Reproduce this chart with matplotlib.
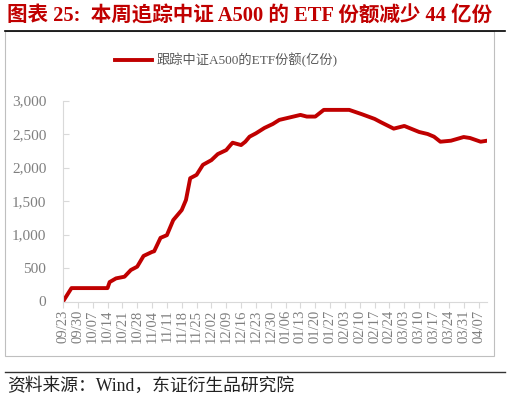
import pandas as pd
import matplotlib.pyplot as plt
from matplotlib.lines import Line2D

# 数据：跟踪中证A500的ETF份额（亿份）
fechas = ["2024-09-23", "2024-09-25", "2024-09-27", "2024-09-30", "2024-10-08",
          "2024-10-11", "2024-10-14", "2024-10-15", "2024-10-18", "2024-10-22",
          "2024-10-25", "2024-10-28", "2024-10-31", "2024-11-04", "2024-11-05",
          "2024-11-08", "2024-11-11", "2024-11-14", "2024-11-18", "2024-11-20",
          "2024-11-22", "2024-11-25", "2024-11-28", "2024-12-02", "2024-12-05",
          "2024-12-09", "2024-12-11", "2024-12-12", "2024-12-16", "2024-12-18",
          "2024-12-20", "2024-12-23", "2024-12-27", "2024-12-31", "2025-01-03",
          "2025-01-07", "2025-01-13", "2025-01-16", "2025-01-20", "2025-01-24",
          "2025-02-05", "2025-02-11", "2025-02-17", "2025-02-20", "2025-02-26",
          "2025-03-03", "2025-03-10", "2025-03-14", "2025-03-17", "2025-03-20",
          "2025-03-25", "2025-03-31", "2025-04-03", "2025-04-08", "2025-04-11"]
valores = [0, 100, 200, 200, 200,
           200, 200, 290, 345, 370,
           470, 520, 680, 740, 750,
           950, 990, 1215, 1365, 1515,
           1840, 1890, 2040, 2110, 2200,
           2260, 2335, 2370, 2335, 2385,
           2460, 2510, 2590, 2650, 2710,
           2740, 2785, 2760, 2760, 2860,
           2860, 2795, 2725, 2675, 2580,
           2620, 2530, 2500, 2460, 2385,
           2400, 2455, 2440, 2385, 2400]

titulo = "图表 25:  本周追踪中证 A500 的 ETF 份额减少 44 亿份"
leyenda = "跟踪中证A500的ETF份额(亿份)"
fuente = "资料来源：Wind，东证衍生品研究院"

df = pd.DataFrame({"fecha": pd.to_datetime(fechas), "valor": valores})

mezcla = ["Liberation Serif", "Noto Sans CJK SC"]
rojo = "#c00000"
gris = "#7f7f7f"

fig = plt.figure(figsize=(5.1, 4.0), dpi=100)
ax = fig.add_axes([63 / 510, 1 - 301.5 / 400, (487 - 63) / 510, 201 / 400])

ax.plot(df["fecha"], df["valor"], color=rojo, lw=2.8, solid_joinstyle="round",
        solid_capstyle="round")

ax.set_ylim(0, 3000)
ax.set_yticks(range(0, 3001, 500))
ax.set_yticklabels([f"{v:,}" for v in range(0, 3001, 500)], family=mezcla,
                   fontsize=11, color=gris)
ax.set_xlim(pd.Timestamp("2024-09-23"), pd.Timestamp("2025-04-11"))
ticks = pd.date_range("2024-09-23", "2025-04-07", freq="7D")
ax.set_xticks(ticks)
ax.set_xticklabels([t.strftime("%m/%d") for t in ticks], rotation=90,
                   family=mezcla, fontsize=10.5, color=gris)

for s in ["top", "right"]:
    ax.spines[s].set_visible(False)
for s in ["left", "bottom"]:
    ax.spines[s].set_color("#d9d9d9")
ax.tick_params(axis="y", direction="in", length=4, color="#d9d9d9", pad=12)
ax.tick_params(axis="x", direction="out", length=4, color="#d9d9d9", pad=2)

# marco del gráfico y líneas negras
fig.add_artist(plt.Rectangle((5 / 510, 1 - 356 / 400), 489 / 510, 325 / 400,
                             fill=False, ec="#bfbfbf", lw=0.8))
fig.add_artist(Line2D([5 / 510, 505 / 510], [1 - 31 / 400] * 2, color="black", lw=1.2))
fig.add_artist(Line2D([5 / 510, 505 / 510], [1 - 372 / 400] * 2, color="#333333", lw=1.0))

fig.text(7 / 510, 1 - 16 / 400, titulo, family=mezcla, fontsize=14.8,
         fontweight="bold", color=rojo, va="center", ha="left")
fig.text(7 / 510, 1 - 386 / 400, fuente, family=mezcla, fontsize=12.8,
         color="#222222", va="center", ha="left")

fig.add_artist(Line2D([115 / 510, 152 / 510], [1 - 60 / 400] * 2, color=rojo, lw=2.8))
fig.text(157 / 510, 1 - 60 / 400, leyenda, family=mezcla, fontsize=9.5,
         color="#595959", va="center", ha="left")

fig.savefig("out.png", dpi=100)
